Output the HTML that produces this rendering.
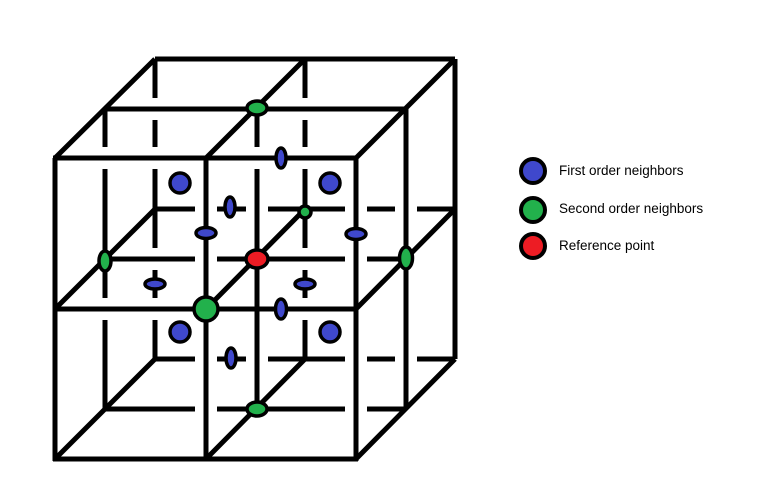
<!DOCTYPE html>
<html><head><meta charset="utf-8"><style>
html,body{margin:0;padding:0;background:#fff;width:763px;height:482px;overflow:hidden}
</style></head><body>
<svg width="763" height="482" viewBox="0 0 763 482" xmlns="http://www.w3.org/2000/svg">
<rect width="763" height="482" fill="#fff"/>
<g stroke-linecap="butt" fill="none">
<g stroke="#000" stroke-width="5">
<path d="M155,59V359M305,59V359M455,59V359M155,59H455M155,209H455M155,359H455"/>
</g>
<g stroke="#fff" stroke-width="22">
<path d="M105,121V397M257,121V397M406,121V397M117,109H394M117,259H394M117,409H394"/>
</g>
<g stroke="#000" stroke-width="5">
<path d="M105,109V409M257,109V409M406,109V409M105,109H406M105,259H406M105,409H406"/>
</g>
<g stroke="#fff" stroke-width="22">
<path d="M55,170V447M206,170V447M356,170V447M67,158H344M67,309H250M264,309H344M67,459H344"/>
</g>
<g stroke="#000" stroke-width="5">
<path d="M55,158V461M206,158V459M356,158V461M53,158H358M55,309H356M53,459H358"/>
</g>
<g stroke="#000" stroke-width="5">
<path d="M55,158L155,59M206,158L305,59M356,158L455,59M55,309L155,209M206,309L305,209M356,309L455,209M55,459L155,359M206,459L305,359M356,459L455,359"/>
</g>
</g>
<g stroke="#000" stroke-width="3.5">
<circle cx="180" cy="183" r="10" fill="#3f48cc"/>
<circle cx="330" cy="183" r="10" fill="#3f48cc"/>
<circle cx="180" cy="332" r="10" fill="#3f48cc"/>
<circle cx="330" cy="332" r="10" fill="#3f48cc"/>
<ellipse cx="281" cy="158" rx="5" ry="10" fill="#3f48cc"/>
<ellipse cx="230" cy="207" rx="5" ry="10" fill="#3f48cc"/>
<ellipse cx="281" cy="309" rx="5.5" ry="10" fill="#3f48cc"/>
<ellipse cx="231" cy="358" rx="5" ry="10" fill="#3f48cc"/>
<ellipse cx="206" cy="233" rx="10" ry="5.5" fill="#3f48cc"/>
<ellipse cx="356" cy="234" rx="10" ry="5.5" fill="#3f48cc"/>
<ellipse cx="155" cy="284" rx="10" ry="5" fill="#3f48cc"/>
<ellipse cx="305" cy="284" rx="10" ry="5" fill="#3f48cc"/>
<ellipse cx="257" cy="108" rx="10" ry="7" fill="#22b14c"/>
<circle cx="305" cy="212" r="6" fill="#22b14c"/>
<ellipse cx="105" cy="261" rx="6" ry="10" fill="#22b14c"/>
<ellipse cx="406" cy="258" rx="6.5" ry="11" fill="#22b14c"/>
<circle cx="206" cy="309" r="12" fill="#22b14c"/>
<ellipse cx="257" cy="409" rx="10" ry="7" fill="#22b14c"/>
<ellipse cx="257" cy="259" rx="11" ry="9" fill="#ed1c24"/>
<circle cx="533" cy="171" r="12" stroke-width="4" fill="#3f48cc"/>
<circle cx="533" cy="210" r="12" stroke-width="4" fill="#22b14c"/>
<circle cx="533" cy="246" r="12" stroke-width="4" fill="#ed1c24"/>
</g>
<g font-family="Liberation Sans, sans-serif" font-size="13.5" fill="#000">
<text x="559" y="175">First order neighbors</text>
<text x="559" y="213">Second order neighbors</text>
<text x="559" y="250">Reference point</text>
</g>
</svg>
</body></html>
